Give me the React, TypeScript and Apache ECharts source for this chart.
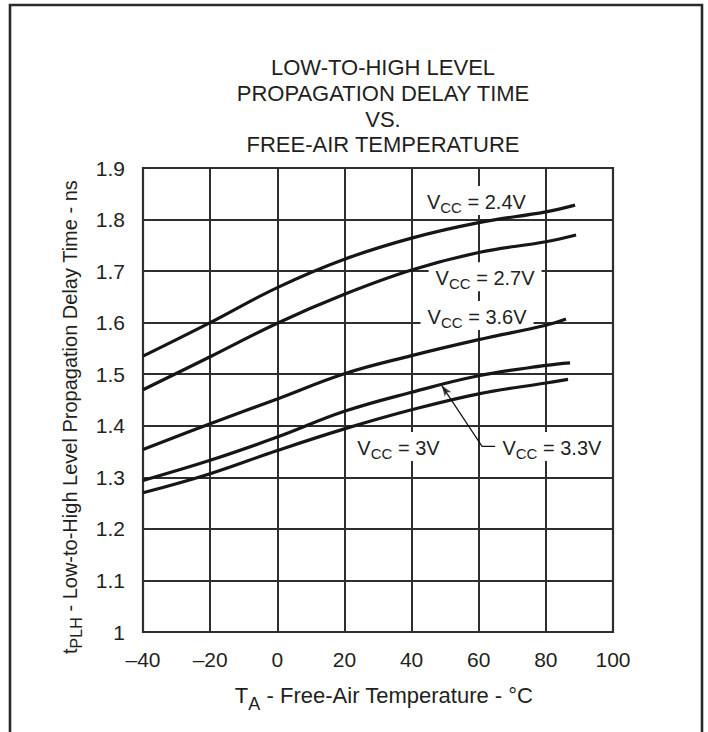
import React, { useEffect, useRef } from 'react';
import * as echarts from 'echarts';

// ---- data ----
const xTicks = [-40, -20, 0, 20, 40, 60, 80, 100];
const yTicks = [1, 1.1, 1.2, 1.3, 1.4, 1.5, 1.6, 1.7, 1.8, 1.9];

const seriesNames = ['VCC = 2.4V', 'VCC = 2.7V', 'VCC = 3.6V', 'VCC = 3.3V', 'VCC = 3V'];

const temp24 = [-40, -20, 0, 20, 40, 60, 80, 88.7];
const delay24 = [1.535, 1.6, 1.668, 1.723, 1.764, 1.794, 1.815, 1.828];

const temp27 = [-40, -20, 0, 20, 40, 60, 80, 89];
const delay27 = [1.47, 1.534, 1.599, 1.655, 1.702, 1.736, 1.757, 1.77];

const temp36 = [-40, -20, 0, 20, 40, 60, 80, 86];
const delay36 = [1.354, 1.404, 1.452, 1.501, 1.536, 1.567, 1.595, 1.607];

const temp33 = [-40, -20, 0, 20, 40, 60, 80, 87.2];
const delay33 = [1.294, 1.333, 1.378, 1.428, 1.465, 1.497, 1.517, 1.522];

const temp30 = [-40, -20, 0, 20, 40, 60, 80, 86.6];
const delay30 = [1.27, 1.307, 1.352, 1.394, 1.431, 1.462, 1.483, 1.49];

// curve annotations (label centre in data coordinates)
const labelSupply = ['2.4V', '2.7V', '3.6V', '3V', '3.3V'];
const labelTemp = [59.3, 61.9, 59.5, 36.1, 81.8];
const labelDelay = [1.837, 1.689, 1.614, 1.36, 1.36];

// leader line from "VCC = 3.3V" to its curve
const leaderTemp = [64.9, 61.0, 49.0];
const leaderDelay = [1.36, 1.36, 1.478];

const titleLines = ['LOW-TO-HIGH LEVEL', 'PROPAGATION DELAY TIME', 'VS.', 'FREE-AIR TEMPERATURE'];

const FONT = '"Liberation Sans", Arial, Helvetica, sans-serif';
const INK = '#231f20';
const GRIDC = '#2e2e2e';

function zip(xs: number[], ys: number[]) {
  return xs.map((x, i) => [x, ys[i]]);
}

export default function App() {
  const ref = useRef<HTMLDivElement>(null);
  useEffect(() => {
    const chart = echarts.init(ref.current as HTMLDivElement, null, { renderer: 'svg' });
    const curves = [
      zip(temp24, delay24),
      zip(temp27, delay27),
      zip(temp36, delay36),
      zip(temp33, delay33),
      zip(temp30, delay30),
    ];
    const curveSeries = curves.map((d, i) => ({
      name: seriesNames[i],
      type: 'line',
      data: d,
      smooth: 0.4,
      symbol: 'none',
      lineStyle: { color: '#161616', width: 3.2 },
      z: 5,
    }));
    const leaderPts = zip(leaderTemp, leaderDelay);
    const baseGraphics: any[] = [
      {
        type: 'rect',
        shape: { x: 10, y: 5, width: 692, height: 780 },
        style: { fill: 'none', stroke: '#2a2a2a', lineWidth: 2.6 },
        silent: true,
      },
      {
        type: 'text',
        x: 383,
        y: 55,
        style: {
          text: titleLines.join('\n'),
          font: '22px ' + FONT,
          fill: INK,
          textAlign: 'center',
          lineHeight: 25.7,
        },
        silent: true,
      },
    ];
    const option: any = {
      animation: false,
      backgroundColor: '#ffffff',
      grid: {
        left: 143,
        right: 95,
        top: 168,
        bottom: 100,
        show: true,
        borderColor: GRIDC,
        borderWidth: 2.2,
        backgroundColor: 'transparent',
      },
      xAxis: {
        type: 'value',
        min: -40,
        max: 100,
        interval: 20,
        axisLine: { show: false },
        axisTick: { show: false },
        splitLine: { show: true, lineStyle: { color: GRIDC, width: 2 } },
        axisLabel: {
          color: INK,
          fontSize: 21,
          fontFamily: FONT,
          margin: 17,
          formatter: (v: number) => (xTicks.includes(v) ? (v < 0 ? '\u2013' + Math.abs(v) : String(v)) : ''),
        },
        name: '{m|T}{s|A}{m| - Free-Air Temperature - \u00b0C}',
        nameLocation: 'middle',
        nameGap: 50,
        nameTextStyle: {
          padding: [0, 0, 0, 12],
          rich: {
            m: { fontSize: 22, fontFamily: FONT, color: INK, lineHeight: 24, verticalAlign: 'bottom' },
            s: { fontSize: 18, fontFamily: FONT, color: INK, lineHeight: 18, verticalAlign: 'bottom', padding: [0, 0, -7, 0] },
          },
        },
      },
      yAxis: {
        type: 'value',
        min: 1,
        max: 1.9,
        interval: 0.1,
        axisLine: { show: false },
        axisTick: { show: false },
        splitLine: { show: true, lineStyle: { color: GRIDC, width: 2 } },
        axisLabel: {
          color: INK,
          fontSize: 21,
          fontFamily: FONT,
          margin: 18,
          formatter: (v: number) => {
            const r = Math.round(v * 10) / 10;
            if (!yTicks.some((t) => Math.abs(t - r) < 1e-6)) return '';
            return r === 1 ? '1' : r.toFixed(1);
          },
        },
        name: '{m|t}{s|PLH}{m| - Low-to-High Level Propagation Delay Time - ns}',
        nameLocation: 'middle',
        nameRotate: 90,
        nameGap: 44,
        nameTextStyle: {
          padding: [0, 34, 0, 0],
          rich: {
            m: { fontSize: 20, fontFamily: FONT, color: INK, lineHeight: 24, verticalAlign: 'bottom' },
            s: { fontSize: 16, fontFamily: FONT, color: INK, lineHeight: 16, verticalAlign: 'bottom', padding: [0, 0, -5, 0] },
          },
        },
      },
      graphic: baseGraphics,
      series: [
        ...curveSeries,
        {
          type: 'line',
          data: leaderPts,
          symbol: 'none',
          smooth: false,
          lineStyle: { color: '#111', width: 1.2 },
          z: 6,
        },
        {
          type: 'scatter',
          data: [leaderPts[2]],
          symbol: 'arrow',
          symbolSize: [6, 11],
          symbolRotate: 35,
          itemStyle: { color: '#111' },
          z: 7,
        },
      ],
    };
    chart.setOption(option);

    // curve labels: placed through the chart's own coordinate conversion,
    // above the grid lines but beneath the curves
    const labelGraphics = labelSupply.map((s, i) => {
      const p = chart.convertToPixel({ xAxisIndex: 0, yAxisIndex: 0 }, [labelTemp[i], labelDelay[i]]) as number[];
      return {
        type: 'text',
        x: p[0],
        y: p[1],
        z: 3,
        silent: true,
        style: {
          text: '{v|V}{s|CC}{v| = ' + s + '}',
          align: 'center',
          verticalAlign: 'middle',
          textAlign: 'center',
          textVerticalAlign: 'middle',
          backgroundColor: '#ffffff',
          padding: [4, 7, 3, 7],
          rich: {
            v: { fontSize: 20, fontFamily: FONT, fill: INK, color: INK, lineHeight: 22, verticalAlign: 'bottom' },
            s: { fontSize: 15, fontFamily: FONT, fill: INK, color: INK, lineHeight: 15, verticalAlign: 'bottom', padding: [0, 0, -3, 0] },
          },
        },
      };
    });
    chart.setOption({ graphic: [...baseGraphics, ...labelGraphics] });
    return () => chart.dispose();
  }, []);
  return <div ref={ref} style={{ position: 'absolute', left: 0, top: 0, width: 708, height: 732 }} />;
}
